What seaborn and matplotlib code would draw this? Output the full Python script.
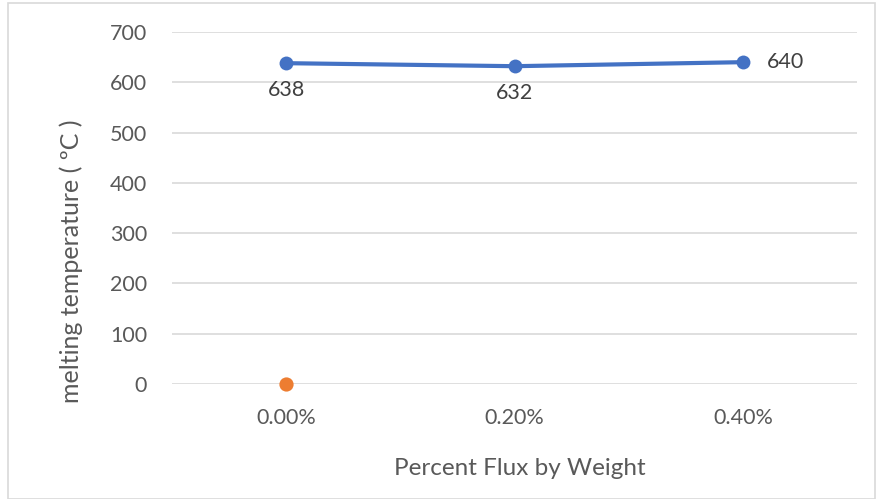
import matplotlib
matplotlib.use("Agg")
import matplotlib.pyplot as plt
import seaborn as sns
import pandas as pd
from matplotlib.patches import Rectangle

# Melting temperature per flux loading
flux_labels = ["0.00%", "0.20%", "0.40%"]
melting_temp = [638, 632, 640]
# Second series: a single point at the first category
second_labels = ["0.00%"]
second_values = [0]
y_ticks = [0, 100, 200, 300, 400, 500, 600, 700]

sns.set_theme(style="white")
plt.rcParams["font.family"] = ["Lato", "DejaVu Sans"]

TEXT = "#595959"
BLUE = "#4472C4"
ORANGE = "#ED7D31"
GRID = "#D9D9D9"

df = pd.DataFrame({"flux": flux_labels, "temp": melting_temp})
df["x"] = range(len(flux_labels))
df2 = pd.DataFrame({"flux": second_labels, "temp": second_values})
df2["x"] = [flux_labels.index(f) for f in second_labels]

fig = plt.figure(figsize=(8.76, 4.99), dpi=100)
ax = fig.add_axes([172 / 876, 1 - 384 / 499, (857 - 172) / 876, (384 - 32) / 499])

sns.lineplot(data=df, x="x", y="temp", ax=ax, color=BLUE, linewidth=3,
             marker="o", markersize=10, markeredgewidth=0, zorder=3)
sns.scatterplot(data=df2, x="x", y="temp", ax=ax, color=ORANGE, s=105,
                linewidth=0, zorder=4, clip_on=False)

ax.set_xlim(-0.5, len(flux_labels) - 0.5)
ax.set_ylim(0, 700)
ax.set_yticks(y_ticks)
ax.set_xticks(range(len(flux_labels)))
ax.set_xticklabels(flux_labels)
ax.yaxis.grid(True, color=GRID, linewidth=1.2)
ax.set_axisbelow(True)
for s in ax.spines.values():
    s.set_visible(False)
ax.tick_params(axis="both", length=0, labelsize=15.5, labelcolor=TEXT)
ax.tick_params(axis="y", pad=18)
ax.tick_params(axis="x", pad=17)
ax.set_xlabel("Percent Flux by Weight", fontsize=17.5, color=TEXT)
ax.set_ylabel("melting temperature ( ºC )", fontsize=18, color=TEXT)
ax.xaxis.set_label_coords(0.508, -0.21)
ax.yaxis.set_label_coords(-0.13, 0.35)

# Value labels
offsets = [(0, -17, "center", "top"), (0, -17, "center", "top"), (24, 0, "left", "center")]
for (x, y), (dx, dy, ha, va) in zip(zip(df["x"], df["temp"]), offsets):
    ax.annotate(f"{y}", (x, y), xytext=(dx, dy), textcoords="offset pixels",
                ha=ha, va=va, fontsize=15.5, color="#404040")

# Chart border
fig.patches.append(Rectangle((8 / 876, 0.5 / 499), (875 - 8) / 876, (496 - 0.5) / 499,
                             transform=fig.transFigure, fill=False,
                             edgecolor="#D9D9D9", linewidth=1.2))

fig.savefig("out.png", dpi=100)
